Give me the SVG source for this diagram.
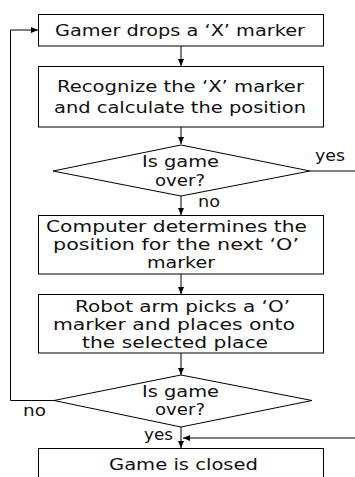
<svg xmlns="http://www.w3.org/2000/svg" width="355" height="477" viewBox="0 0 355 477">
<style>
.box{fill:#fff;stroke:#000;stroke-width:1}
.ln{fill:none;stroke:#000;stroke-width:1}
.t{font-family:"DejaVu Sans","Noto Sans CJK KR",sans-serif;font-size:15.5px;fill:#111;text-anchor:middle}
.l{font-family:"DejaVu Sans","Noto Sans CJK KR",sans-serif;font-size:15.5px;fill:#111}
</style>
<defs>
<marker id="ah" markerWidth="8" markerHeight="8" refX="7" refY="4" orient="auto" markerUnits="userSpaceOnUse">
<path d="M0,1 L7,4 L0,7 Z" fill="#000"/>
</marker>
</defs>
<rect width="355" height="477" fill="#fff"/>
<g id="connectors">
<line class="ln" x1="181" y1="46" x2="181" y2="66" marker-end="url(#ah)"/>
<line class="ln" x1="181" y1="127" x2="181" y2="144" marker-end="url(#ah)"/>
<line class="ln" x1="310" y1="171" x2="355" y2="171"/>
<line class="ln" x1="181" y1="196" x2="181" y2="215" marker-end="url(#ah)"/>
<line class="ln" x1="181" y1="274" x2="181" y2="294" marker-end="url(#ah)"/>
<line class="ln" x1="181" y1="353" x2="181" y2="375" marker-end="url(#ah)"/>
<polyline class="ln" points="54,400.5 10.5,400.5 10.5,30 38,30" marker-end="url(#ah)"/>
<line class="ln" x1="181" y1="427" x2="181" y2="448" marker-end="url(#ah)"/>
<line class="ln" x1="355" y1="438" x2="183" y2="438" marker-end="url(#ah)"/>
<text class="l" x="315" y="161" textLength="30" lengthAdjust="spacingAndGlyphs">yes</text>
<text class="l" x="198" y="207" textLength="22" lengthAdjust="spacingAndGlyphs">no</text>
<text class="l" x="23" y="416" textLength="23" lengthAdjust="spacingAndGlyphs">no</text>
<text class="l" x="144" y="440" textLength="29" lengthAdjust="spacingAndGlyphs">yes</text>
</g>
<g id="n1">
<rect class="box" x="38.5" y="14.5" width="285" height="31.5"/>
<text class="t" x="180" y="36" textLength="250" lengthAdjust="spacingAndGlyphs">Gamer drops a ‘X’ marker</text>
</g>
<g id="n2">
<rect class="box" x="38.5" y="66.5" width="285" height="60.5"/>
<text class="t" x="180.5" y="92" textLength="247" lengthAdjust="spacingAndGlyphs">Recognize the ‘X’ marker</text>
<text class="t" x="180" y="113" textLength="252" lengthAdjust="spacingAndGlyphs">and calculate the position</text>
</g>
<g id="n3">
<polygon class="box" points="181,145 310,171 181,196 53,171"/>
<text class="t" x="180.5" y="167" textLength="77" lengthAdjust="spacingAndGlyphs">Is game</text>
<text class="t" x="180" y="186" textLength="50" lengthAdjust="spacingAndGlyphs">over?</text>
</g>
<g id="n4">
<rect class="box" x="38.5" y="215.5" width="285" height="58.5"/>
<text class="t" x="176.5" y="232" textLength="261" lengthAdjust="spacingAndGlyphs">Computer determines the</text>
<text class="t" x="176" y="250" textLength="246" lengthAdjust="spacingAndGlyphs">position for the next ‘O’</text>
<text class="t" x="181" y="268" textLength="68" lengthAdjust="spacingAndGlyphs">marker</text>
</g>
<g id="n5">
<rect class="box" x="38.5" y="294.5" width="285" height="58.5"/>
<text class="t" x="182.5" y="312" textLength="215" lengthAdjust="spacingAndGlyphs">Robot arm picks a ‘O’</text>
<text class="t" x="174" y="330" textLength="242" lengthAdjust="spacingAndGlyphs">marker and places onto</text>
<text class="t" x="175" y="348" textLength="186" lengthAdjust="spacingAndGlyphs">the selected place</text>
</g>
<g id="n6">
<polygon class="box" points="181,375 312,400.5 181,427 54,400.5"/>
<text class="t" x="180.5" y="397" textLength="77" lengthAdjust="spacingAndGlyphs">Is game</text>
<text class="t" x="180" y="415" textLength="50" lengthAdjust="spacingAndGlyphs">over?</text>
</g>
<g id="n7">
<rect class="box" x="38.5" y="448.5" width="285" height="40"/>
<text class="t" x="183.5" y="470" textLength="149" lengthAdjust="spacingAndGlyphs">Game is closed</text>
</g>
</svg>
